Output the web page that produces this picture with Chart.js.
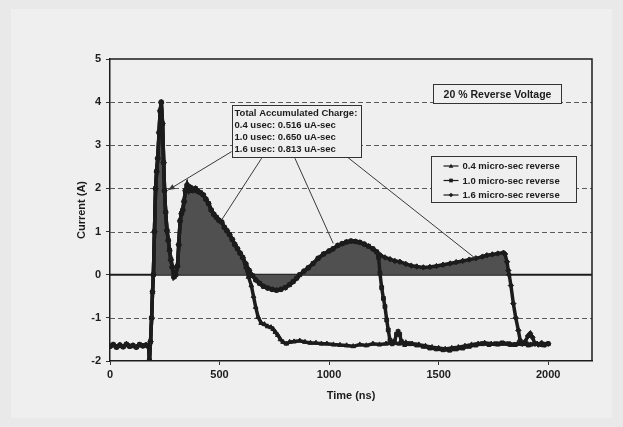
<!DOCTYPE html>
<html>
<head>
<meta charset="utf-8">
<title>Reverse current</title>
<script src="https://cdn.jsdelivr.net/npm/chart.js@4.4.1/dist/chart.umd.min.js"></script>
<style>
  html, body { margin: 0; padding: 0; background: #e9e9e9; }
  #chart-current { display: block; }
</style>
</head>
<body>
<canvas id="chart-current" width="623" height="427"></canvas>
<script>
// shared part of all three traces (ns / A)
const commonTime = [0, 15, 30, 45, 60, 75, 90, 105, 120, 135, 150, 165, 176, 180, 185, 190, 194, 198, 203, 208,
    213, 218, 224, 229, 234, 240, 245, 249, 254, 260, 266, 272, 278,
    284, 292, 300, 308, 314, 320, 326, 332, 338, 344, 352, 360, 368, 378, 390, 402, 414, 426, 438, 450,
    462, 474, 486, 498, 510, 522, 534, 546, 558, 570, 582, 594, 606];
const commonCurrent = [-1.66, -1.62, -1.68, -1.63, -1.67, -1.61, -1.66, -1.64, -1.68, -1.62, -1.65, -1.63, -1.66, -1.98, -1.55, -1.0, -0.4, 0.0, 1.0, 2.0,
    2.4, 2.7, 3.3, 3.8, 4.0, 3.5, 2.6, 1.95, 1.45, 1.03, 0.8, 0.57, 0.35,
    0.18, -0.05, 0.0, 0.2, 0.7, 1.25, 1.42, 1.5, 1.7, 1.95, 2.08, 1.95, 2.02, 1.95, 2.0, 1.93, 1.9, 1.85, 1.75, 1.65,
    1.5, 1.4, 1.33, 1.26, 1.22, 1.1, 1.02, 0.93, 0.82, 0.7, 0.6, 0.5, 0.4];

// 0.4 usec trace after the common part
const tail04Time = [620, 632, 645, 655, 665, 676, 690, 705, 720, 735, 745, 755, 766, 778, 790, 805, 820, 840, 866, 890,
    915, 940, 965, 990, 1020, 1050, 1080, 1110, 1140, 1170, 1200, 1230, 1260, 1290, 1320, 1350, 1380, 1410, 1440, 1470,
    1500, 1530, 1560, 1590, 1620, 1650, 1680, 1710, 1740, 1770, 1800, 1830, 1860, 1890, 1920, 1950, 1980, 2000];
const tail04Current = [0.18, -0.05, -0.25, -0.5, -0.75, -0.98, -1.12, -1.15, -1.2, -1.22, -1.26, -1.33, -1.4, -1.5, -1.56, -1.6, -1.56, -1.55, -1.53, -1.56,
    -1.58, -1.58, -1.6, -1.6, -1.62, -1.63, -1.64, -1.66, -1.62, -1.64, -1.6, -1.62, -1.6, -1.58, -1.6, -1.57, -1.6, -1.62, -1.65, -1.68,
    -1.7, -1.72, -1.7, -1.68, -1.65, -1.62, -1.6, -1.58, -1.6, -1.62, -1.6, -1.63, -1.6, -1.58, -1.62, -1.6, -1.64, -1.6];

// 1.0 and 1.6 usec traces run together up to ~1220 ns
const midTime = [620, 635, 650, 665, 683, 700, 720, 740, 760, 780, 800, 820, 836, 852, 866, 885, 905, 927, 950, 975,
    1000, 1018, 1040, 1060, 1080, 1100, 1120, 1140, 1160, 1180, 1200, 1217];
const midCurrent = [0.25, 0.1, -0.02, -0.12, -0.2, -0.27, -0.31, -0.34, -0.36, -0.34, -0.3, -0.23, -0.16, -0.08, 0.0, 0.08, 0.16, 0.26, 0.38, 0.48,
    0.55, 0.6, 0.68, 0.72, 0.76, 0.78, 0.77, 0.75, 0.71, 0.66, 0.6, 0.53];

const tail10Time = [1226, 1232, 1240, 1248, 1255, 1263, 1270, 1278, 1288, 1298, 1308, 1315, 1322, 1330, 1345, 1370, 1400, 1430, 1460, 1490,
    1520, 1550, 1580, 1610, 1640, 1670, 1700, 1730, 1760, 1790, 1820, 1850, 1880, 1910, 1940, 1970, 2000];
const tail10Current = [0.4, 0.04, -0.3, -0.55, -0.74, -1.05, -1.28, -1.52, -1.6, -1.55, -1.38, -1.32, -1.38, -1.55, -1.62, -1.6, -1.63, -1.66, -1.7, -1.72,
    -1.74, -1.75, -1.72, -1.7, -1.66, -1.63, -1.6, -1.62, -1.6, -1.58, -1.6, -1.62, -1.6, -1.63, -1.6, -1.62, -1.6];

const tail16Time = [1235, 1255, 1278, 1300, 1323, 1350, 1375, 1400, 1430, 1460, 1490, 1520, 1552, 1580, 1610, 1640, 1670, 1700, 1720, 1745,
    1770, 1796, 1803, 1812, 1818, 1822, 1830, 1841, 1852, 1864, 1872, 1882, 1895, 1908, 1918, 1928, 1940, 1955, 1970, 1985, 2000];
const tail16Current = [0.45, 0.4, 0.36, 0.32, 0.3, 0.25, 0.21, 0.19, 0.17, 0.18, 0.2, 0.23, 0.26, 0.29, 0.32, 0.35, 0.38, 0.42, 0.45, 0.47,
    0.49, 0.51, 0.48, 0.3, 0.1, 0.0, -0.25, -0.67, -1.0, -1.29, -1.52, -1.6, -1.55, -1.42, -1.36, -1.45, -1.6, -1.62, -1.58, -1.62, -1.6];

const timeTicks = [0, 500, 1000, 1500, 2000];
const seriesLabels = ['0.4 micro-sec reverse', '1.0 micro-sec reverse', '1.6 micro-sec reverse'];
const seriesMarkers = ['triangle', 'rect', 'rectRot'];
const chargeLines = ['Total Accumulated Charge:', '0.4 usec: 0.516 uA-sec', '1.0 usec: 0.650 uA-sec', '1.6 usec: 0.813 uA-sec'];
const noteText = '20 % Reverse Voltage';
const chargeWindow = [198, 1822]; // reverse pulse part of the 1.6 usec trace that is shaded

// annotation placement in data units
const chargeBox = { x0: 555, x1: 1146, y0: 3.934, y1: 2.735 };
const noteBox = { x0: 1474, x1: 2058, y0: 4.42, y1: 3.97 };
const legendBox = { x0: 1465, x1: 2127, y0: 2.75, y1: 1.686 };
const callouts = [
    { from: [555, 2.853], to: [266, 1.965], head: true },
    { from: [692, 2.70], to: [510, 1.274] },
    { from: [844, 2.70], to: [1019, 0.725] },
    { from: [1080, 2.74], to: [1666, 0.385] }
];

const FONT = '"Liberation Sans", Arial, sans-serif';
const INK = '#1c1c1c';

function points(times, currents) {
    return times.map(function (t, i) { return { x: t, y: currents[i] }; });
}

const trace04 = points(commonTime.concat(tail04Time), commonCurrent.concat(tail04Current));
const trace10 = points(commonTime.concat(midTime, tail10Time), commonCurrent.concat(midCurrent, tail10Current));
const trace16 = points(commonTime.concat(midTime, tail16Time), commonCurrent.concat(midCurrent, tail16Current));
const chargeArea = trace16.filter(function (p) { return p.x >= chargeWindow[0] && p.x <= chargeWindow[1]; });

function traceDataset(label, data, marker) {
    return {
        label: label,
        data: data,
        borderColor: INK,
        backgroundColor: INK,
        borderWidth: 3.5,
        pointStyle: marker,
        pointRadius: 2.7,
        pointBorderWidth: 1,
        pointBackgroundColor: INK,
        pointBorderColor: INK,
        tension: 0,
        fill: false,
        order: 1
    };
}

function drawMarker(c, style, x, y, r) {
    c.beginPath();
    if (style === 'triangle') {
        c.moveTo(x, y - r); c.lineTo(x + r, y + r * 0.8); c.lineTo(x - r, y + r * 0.8);
    } else if (style === 'rect') {
        c.rect(x - r * 0.8, y - r * 0.8, r * 1.6, r * 1.6);
    } else {
        c.moveTo(x, y - r); c.lineTo(x + r, y); c.lineTo(x, y + r); c.lineTo(x - r, y);
    }
    c.closePath();
    c.fill();
}

const paperPlugin = {
    id: 'paper',
    beforeDraw(chart) {
        const c = chart.ctx;
        c.save();
        c.fillStyle = '#e9e9e9';
        c.fillRect(0, 0, chart.width, chart.height);
        c.fillStyle = '#efefef';
        c.fillRect(11, 9, chart.width - 22, chart.height - 18);
        c.restore();
    },
    beforeDatasetsDraw(chart) {
        const c = chart.ctx;
        const a = chart.chartArea;
        const y = chart.scales.y;
        c.save();
        c.lineWidth = 1;
        c.strokeStyle = '#5a5a5a';
        c.setLineDash([5, 3]);
        y.ticks.forEach(function (t) {
            if (t.value === 0 || t.value === y.min || t.value === y.max) return;
            const py = Math.round(y.getPixelForValue(t.value)) + 0.5;
            c.beginPath(); c.moveTo(a.left, py); c.lineTo(a.right, py); c.stroke();
        });
        c.setLineDash([]);
        c.strokeStyle = INK;
        c.lineWidth = 2;
        const zy = y.getPixelForValue(0);
        c.beginPath(); c.moveTo(a.left, zy); c.lineTo(a.right, zy); c.stroke();
        c.lineWidth = 1.5;
        c.beginPath(); c.moveTo(a.left, a.top); c.lineTo(a.right, a.top); c.lineTo(a.right, a.bottom); c.stroke();
        c.restore();
    },
    afterDatasetsDraw(chart) {
        const c = chart.ctx;
        const x = chart.scales.x;
        const y = chart.scales.y;
        const box = function (b) {
            const l = x.getPixelForValue(b.x0), r = x.getPixelForValue(b.x1);
            const t = y.getPixelForValue(b.y0), btm = y.getPixelForValue(b.y1);
            return { l: Math.round(l) + 0.5, t: Math.round(t) + 0.5, w: Math.round(r - l), h: Math.round(btm - t) };
        };
        c.save();

        // callout lines
        c.strokeStyle = '#3a3a3a';
        c.fillStyle = '#3a3a3a';
        c.lineWidth = 1;
        callouts.forEach(function (k) {
            const x1 = x.getPixelForValue(k.from[0]), y1 = y.getPixelForValue(k.from[1]);
            const x2 = x.getPixelForValue(k.to[0]), y2 = y.getPixelForValue(k.to[1]);
            c.beginPath(); c.moveTo(x1, y1); c.lineTo(x2, y2); c.stroke();
            if (k.head) {
                const ang = Math.atan2(y2 - y1, x2 - x1);
                c.beginPath();
                c.moveTo(x2, y2);
                c.lineTo(x2 - 7 * Math.cos(ang - 0.4), y2 - 7 * Math.sin(ang - 0.4));
                c.lineTo(x2 - 7 * Math.cos(ang + 0.4), y2 - 7 * Math.sin(ang + 0.4));
                c.closePath();
                c.fill();
            }
        });

        c.textBaseline = 'middle';
        c.font = 'bold 9.5px ' + FONT;

        // charge box
        const cb = box(chargeBox);
        c.fillStyle = '#efefef';
        c.fillRect(cb.l, cb.t, cb.w, cb.h);
        c.strokeStyle = '#333';
        c.strokeRect(cb.l, cb.t, cb.w, cb.h);
        c.fillStyle = INK;
        chargeLines.forEach(function (txt, i) {
            c.fillText(txt, cb.l + 2, cb.t + 8 + i * 11.9);
        });

        // reverse voltage note
        const nb = box(noteBox);
        c.fillStyle = '#efefef';
        c.fillRect(nb.l, nb.t, nb.w, nb.h);
        c.strokeRect(nb.l, nb.t, nb.w, nb.h);
        c.fillStyle = INK;
        c.textAlign = 'center';
        c.font = 'bold 10.5px ' + FONT;
        c.fillText(noteText, nb.l + nb.w / 2, nb.t + nb.h / 2 + 1);

        // legend
        const lb = box(legendBox);
        c.fillStyle = '#efefef';
        c.fillRect(lb.l, lb.t, lb.w, lb.h);
        c.strokeRect(lb.l, lb.t, lb.w, lb.h);
        c.textAlign = 'left';
        c.font = 'bold 9.5px ' + FONT;
        seriesLabels.forEach(function (label, i) {
            const ry = lb.t + 9.5 + i * 14.5;
            c.strokeStyle = INK;
            c.lineWidth = 1.2;
            c.beginPath(); c.moveTo(lb.l + 12, ry); c.lineTo(lb.l + 27, ry); c.stroke();
            c.fillStyle = INK;
            drawMarker(c, seriesMarkers[i], lb.l + 19.5, ry, 2.3);
            c.fillText(label, lb.l + 31, ry + 0.5);
        });
        c.restore();
    }
};

const tickFont = { family: FONT, size: 11, weight: 'bold' };

new Chart(document.getElementById('chart-current'), {
    type: 'line',
    data: {
        datasets: [
            {
                label: 'charge',
                data: chargeArea,
                borderWidth: 0,
                pointRadius: 0,
                backgroundColor: '#505050',
                fill: 'origin',
                tension: 0,
                order: 10
            },
            traceDataset(seriesLabels[0], trace04, seriesMarkers[0]),
            traceDataset(seriesLabels[1], trace10, seriesMarkers[1]),
            traceDataset(seriesLabels[2], trace16, seriesMarkers[2])
        ]
    },
    options: {
        responsive: false,
        animation: false,
        layout: { padding: { left: 0, top: 59, right: 31, bottom: 0 } },
        plugins: {
            legend: { display: false },
            tooltip: { enabled: false }
        },
        scales: {
            x: {
                type: 'linear',
                min: 0,
                max: 2200,
                afterFit: function (s) { s.height = 66; },
                afterBuildTicks: function (s) { s.ticks = timeTicks.map(function (v) { return { value: v }; }); },
                ticks: { font: tickFont, color: INK, padding: 3, maxRotation: 0, callback: function (v) { return String(v); } },
                grid: { drawOnChartArea: false, drawTicks: true, tickLength: 4, color: '#333' },
                border: { color: INK, width: 1.5 },
                title: { display: true, text: 'Time (ns)', font: tickFont, color: INK, padding: { top: 0, bottom: 24.5 } }
            },
            y: {
                min: -2,
                max: 5,
                afterFit: function (s) { s.width = 110; },
                ticks: { stepSize: 1, font: tickFont, color: INK, padding: 5 },
                grid: { drawOnChartArea: false, drawTicks: true, tickLength: 4, color: '#333' },
                border: { color: INK, width: 1.5 },
                title: { display: true, text: 'Current (A)', font: tickFont, color: INK, padding: { top: 75, bottom: 0 } }
            }
        }
    },
    plugins: [paperPlugin]
});
</script>
</body>
</html>
